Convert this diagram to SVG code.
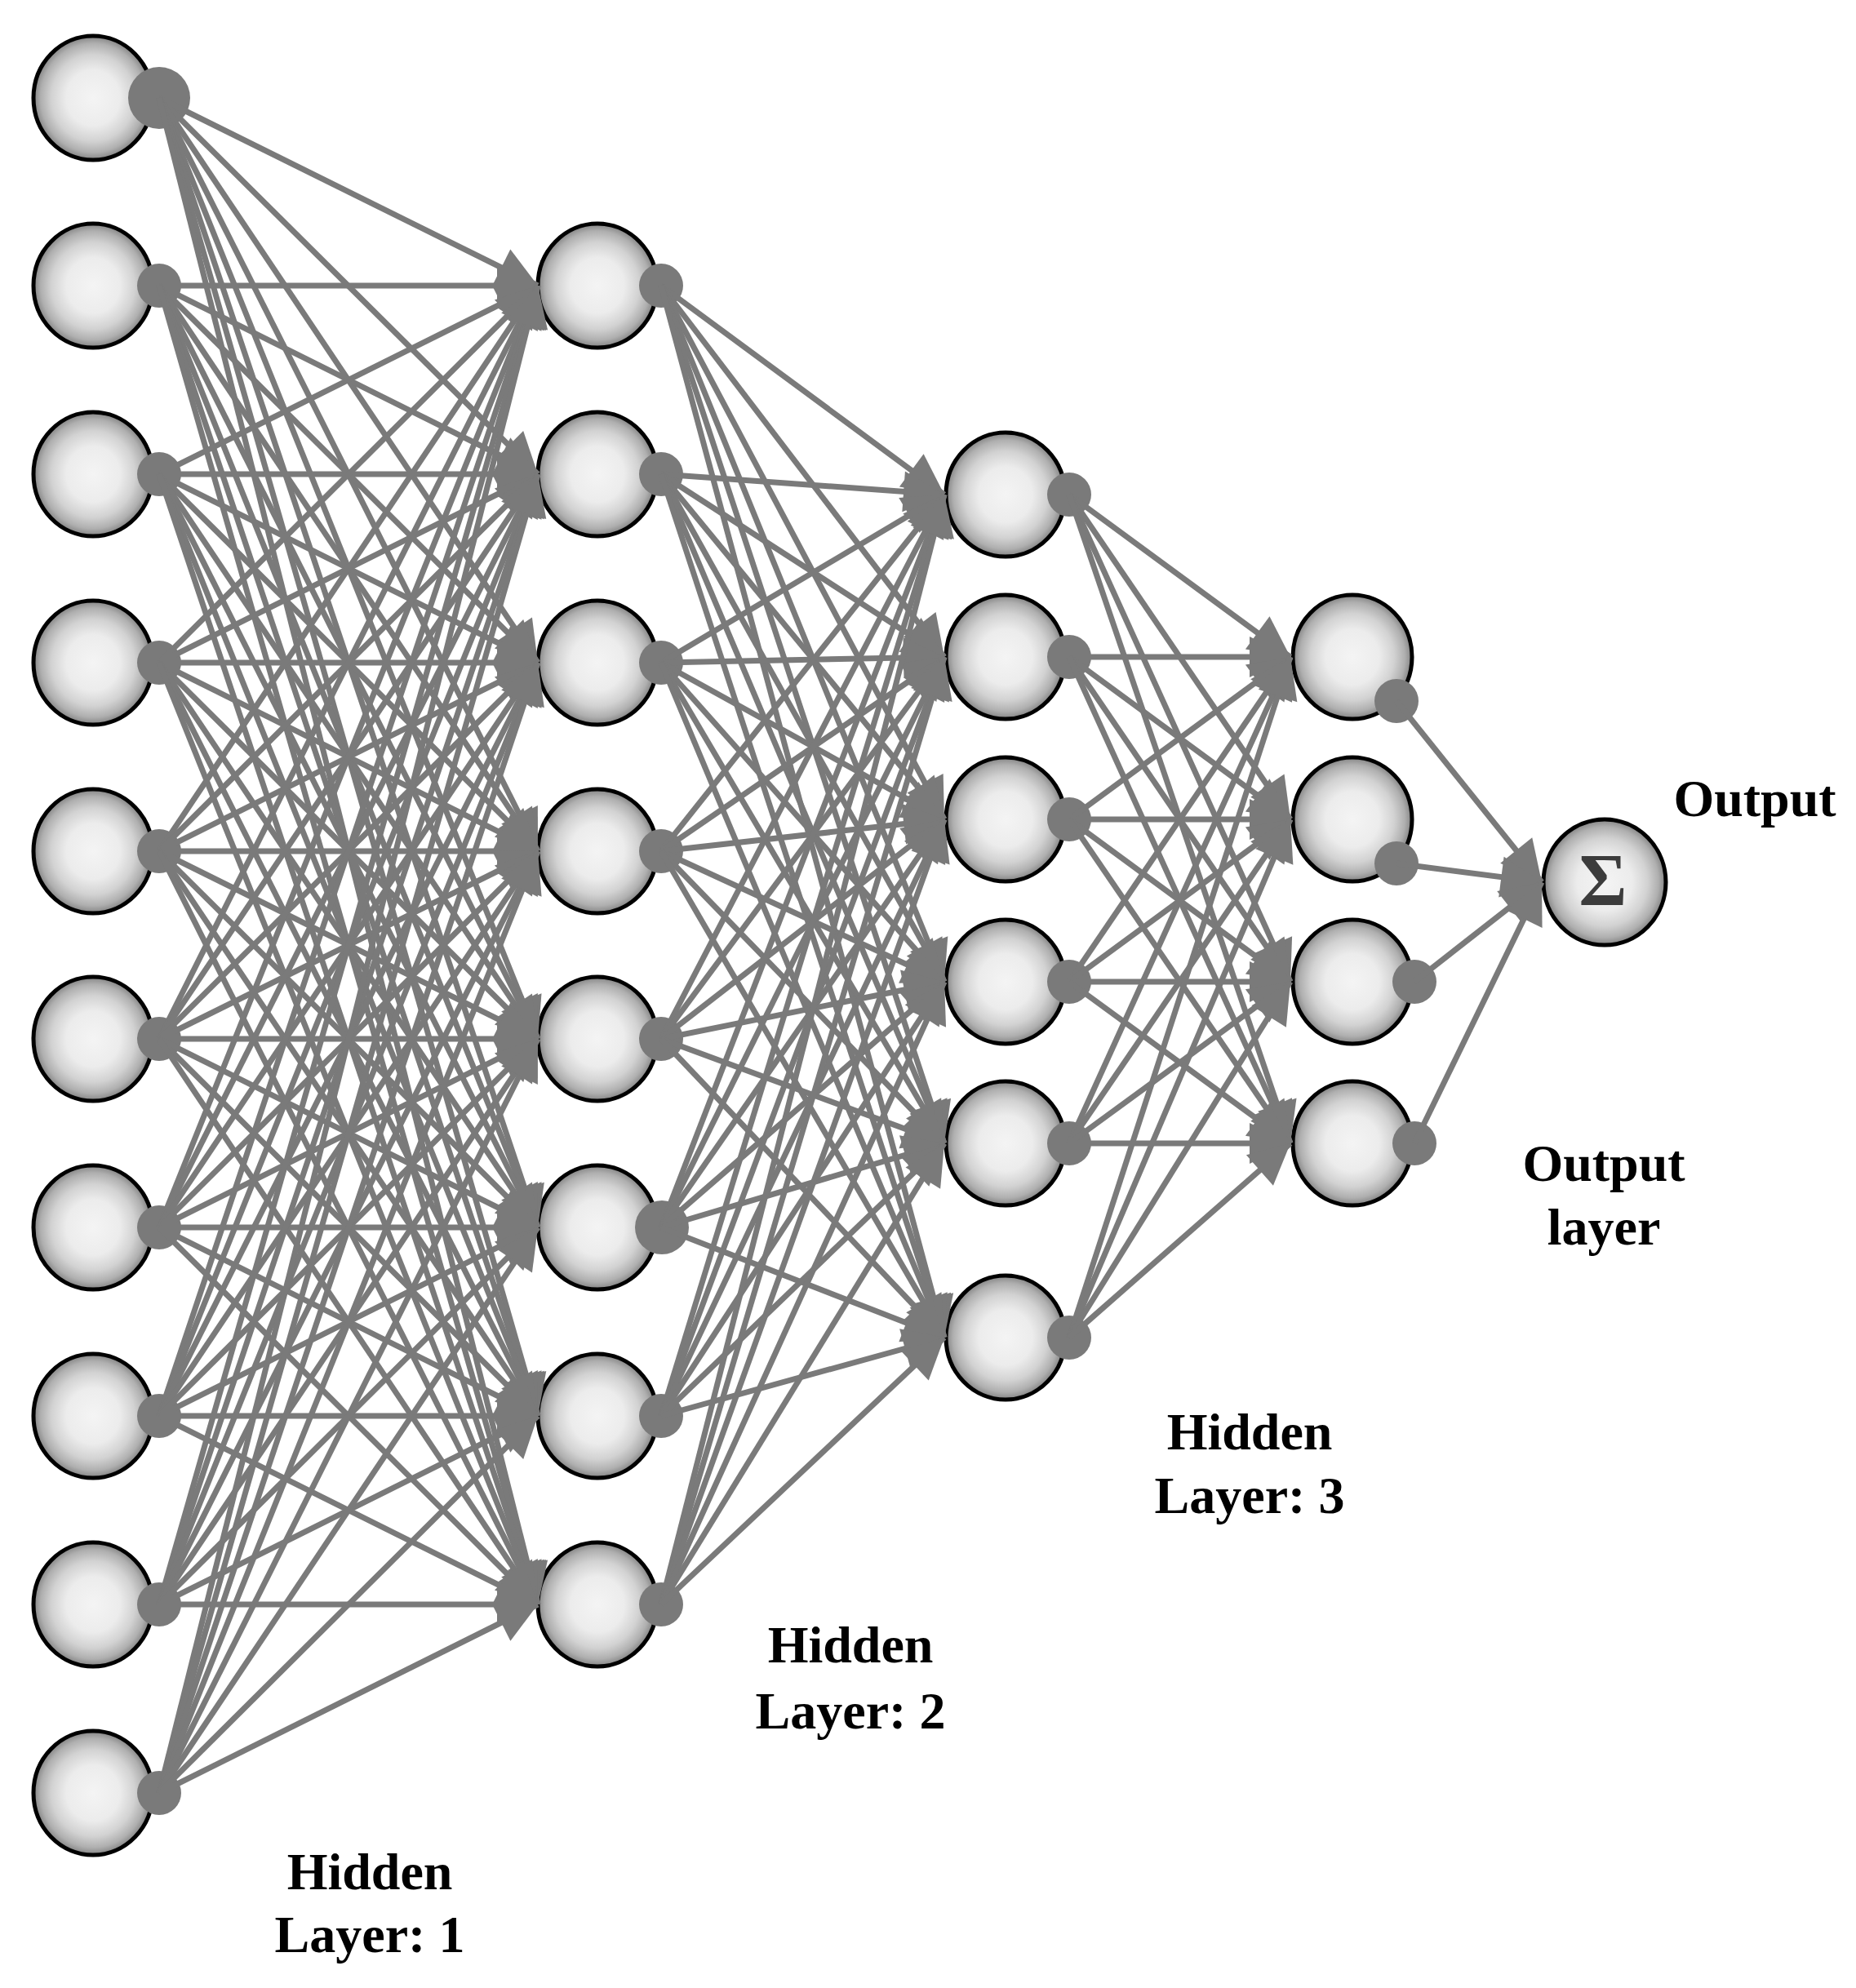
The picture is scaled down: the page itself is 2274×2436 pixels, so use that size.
<svg xmlns="http://www.w3.org/2000/svg" width="2274" height="2436" viewBox="0 0 2274 2436">
<defs>
<radialGradient id="g" cx="50%" cy="50%" r="50%">
<stop offset="0" stop-color="#f4f4f4"/>
<stop offset="0.45" stop-color="#ececec"/>
<stop offset="0.7" stop-color="#d2d2d2"/>
<stop offset="0.88" stop-color="#afafaf"/>
<stop offset="1" stop-color="#828282"/>
</radialGradient>
<marker id="ah" markerUnits="userSpaceOnUse" markerWidth="50" markerHeight="50" refX="50" refY="25" orient="auto" overflow="visible">
<path d="M0,0 L50,25 L0,50 z" fill="#7a7a7a"/>
</marker>
<style>
.n{fill:url(#g);stroke:#000;stroke-width:5}
.d{fill:#7a7a7a}
#connectors line{stroke:#7a7a7a;stroke-width:7;marker-end:url(#ah)}
.t{font-family:"Liberation Serif","Times New Roman",serif;font-weight:bold;font-size:64px;fill:#000;text-anchor:middle}
.s{font-family:"Liberation Serif","Times New Roman",serif;font-weight:bold;font-size:90px;fill:#3c3c3c;text-anchor:middle}
</style>
</defs>
<rect width="2274" height="2436" fill="#fff"/>
<g id="nodes">
<g id="in1"><ellipse class="n" cx="114" cy="120" rx="73" ry="76"/><circle class="d" cx="195" cy="120" r="38"/></g>
<g id="in2"><ellipse class="n" cx="114" cy="350" rx="73" ry="76"/><circle class="d" cx="195" cy="350" r="27"/></g>
<g id="in3"><ellipse class="n" cx="114" cy="581" rx="73" ry="76"/><circle class="d" cx="195" cy="581" r="27"/></g>
<g id="in4"><ellipse class="n" cx="114" cy="812" rx="73" ry="76"/><circle class="d" cx="195" cy="812" r="27"/></g>
<g id="in5"><ellipse class="n" cx="114" cy="1043" rx="73" ry="76"/><circle class="d" cx="195" cy="1043" r="27"/></g>
<g id="in6"><ellipse class="n" cx="114" cy="1273" rx="73" ry="76"/><circle class="d" cx="195" cy="1273" r="27"/></g>
<g id="in7"><ellipse class="n" cx="114" cy="1504" rx="73" ry="76"/><circle class="d" cx="195" cy="1504" r="27"/></g>
<g id="in8"><ellipse class="n" cx="114" cy="1735" rx="73" ry="76"/><circle class="d" cx="195" cy="1735" r="27"/></g>
<g id="in9"><ellipse class="n" cx="114" cy="1966" rx="73" ry="76"/><circle class="d" cx="195" cy="1966" r="27"/></g>
<g id="in10"><ellipse class="n" cx="114" cy="2197" rx="73" ry="76"/><circle class="d" cx="195" cy="2197" r="27"/></g>

<g id="h1_1"><ellipse class="n" cx="732" cy="350" rx="73" ry="76"/><circle class="d" cx="810" cy="350" r="27"/></g>
<g id="h1_2"><ellipse class="n" cx="732" cy="581" rx="73" ry="76"/><circle class="d" cx="810" cy="581" r="27"/></g>
<g id="h1_3"><ellipse class="n" cx="732" cy="812" rx="73" ry="76"/><circle class="d" cx="810" cy="812" r="27"/></g>
<g id="h1_4"><ellipse class="n" cx="732" cy="1043" rx="73" ry="76"/><circle class="d" cx="810" cy="1043" r="27"/></g>
<g id="h1_5"><ellipse class="n" cx="732" cy="1273" rx="73" ry="76"/><circle class="d" cx="810" cy="1273" r="27"/></g>
<g id="h1_6"><ellipse class="n" cx="732" cy="1504" rx="73" ry="76"/><circle class="d" cx="811" cy="1504" r="33"/></g>
<g id="h1_7"><ellipse class="n" cx="732" cy="1735" rx="73" ry="76"/><circle class="d" cx="810" cy="1735" r="27"/></g>
<g id="h1_8"><ellipse class="n" cx="732" cy="1966" rx="73" ry="76"/><circle class="d" cx="810" cy="1966" r="27"/></g>

<g id="h2_1"><ellipse class="n" cx="1232" cy="606" rx="73" ry="76"/><circle class="d" cx="1310" cy="606" r="27"/></g>
<g id="h2_2"><ellipse class="n" cx="1232" cy="805" rx="73" ry="76"/><circle class="d" cx="1310" cy="805" r="27"/></g>
<g id="h2_3"><ellipse class="n" cx="1232" cy="1004" rx="73" ry="76"/><circle class="d" cx="1310" cy="1004" r="27"/></g>
<g id="h2_4"><ellipse class="n" cx="1232" cy="1203" rx="73" ry="76"/><circle class="d" cx="1310" cy="1203" r="27"/></g>
<g id="h2_5"><ellipse class="n" cx="1232" cy="1401" rx="73" ry="76"/><circle class="d" cx="1310" cy="1401" r="27"/></g>
<g id="h2_6"><ellipse class="n" cx="1232" cy="1639" rx="73" ry="76"/><circle class="d" cx="1310" cy="1639" r="27"/></g>

<g id="h3_1"><ellipse class="n" cx="1657" cy="805" rx="73" ry="76"/><circle class="d" cx="1711" cy="859" r="27"/></g>
<g id="h3_2"><ellipse class="n" cx="1657" cy="1004" rx="73" ry="76"/><circle class="d" cx="1711" cy="1058" r="27"/></g>
<g id="h3_3"><ellipse class="n" cx="1657" cy="1203" rx="73" ry="76"/><circle class="d" cx="1733" cy="1203" r="27"/></g>
<g id="h3_4"><ellipse class="n" cx="1657" cy="1401" rx="73" ry="76"/><circle class="d" cx="1733" cy="1401" r="27"/></g>

<g id="sum"><ellipse class="n" cx="1966" cy="1081" rx="75" ry="77"/><text class="s" x="1964" y="1109">Σ</text></g>
</g>

<g id="connectors">
<line x1="195" y1="120" x2="659" y2="350"/><line x1="195" y1="120" x2="659" y2="581"/><line x1="195" y1="120" x2="659" y2="812"/><line x1="195" y1="120" x2="659" y2="1043"/><line x1="195" y1="120" x2="659" y2="1273"/><line x1="195" y1="120" x2="659" y2="1504"/><line x1="195" y1="120" x2="659" y2="1735"/><line x1="195" y1="120" x2="659" y2="1966"/>
<line x1="195" y1="350" x2="659" y2="350"/><line x1="195" y1="350" x2="659" y2="581"/><line x1="195" y1="350" x2="659" y2="812"/><line x1="195" y1="350" x2="659" y2="1043"/><line x1="195" y1="350" x2="659" y2="1273"/><line x1="195" y1="350" x2="659" y2="1504"/><line x1="195" y1="350" x2="659" y2="1735"/><line x1="195" y1="350" x2="659" y2="1966"/>
<line x1="195" y1="581" x2="659" y2="350"/><line x1="195" y1="581" x2="659" y2="581"/><line x1="195" y1="581" x2="659" y2="812"/><line x1="195" y1="581" x2="659" y2="1043"/><line x1="195" y1="581" x2="659" y2="1273"/><line x1="195" y1="581" x2="659" y2="1504"/><line x1="195" y1="581" x2="659" y2="1735"/><line x1="195" y1="581" x2="659" y2="1966"/>
<line x1="195" y1="812" x2="659" y2="350"/><line x1="195" y1="812" x2="659" y2="581"/><line x1="195" y1="812" x2="659" y2="812"/><line x1="195" y1="812" x2="659" y2="1043"/><line x1="195" y1="812" x2="659" y2="1273"/><line x1="195" y1="812" x2="659" y2="1504"/><line x1="195" y1="812" x2="659" y2="1735"/><line x1="195" y1="812" x2="659" y2="1966"/>
<line x1="195" y1="1043" x2="659" y2="350"/><line x1="195" y1="1043" x2="659" y2="581"/><line x1="195" y1="1043" x2="659" y2="812"/><line x1="195" y1="1043" x2="659" y2="1043"/><line x1="195" y1="1043" x2="659" y2="1273"/><line x1="195" y1="1043" x2="659" y2="1504"/><line x1="195" y1="1043" x2="659" y2="1735"/><line x1="195" y1="1043" x2="659" y2="1966"/>
<line x1="195" y1="1273" x2="659" y2="350"/><line x1="195" y1="1273" x2="659" y2="581"/><line x1="195" y1="1273" x2="659" y2="812"/><line x1="195" y1="1273" x2="659" y2="1043"/><line x1="195" y1="1273" x2="659" y2="1273"/><line x1="195" y1="1273" x2="659" y2="1504"/><line x1="195" y1="1273" x2="659" y2="1735"/><line x1="195" y1="1273" x2="659" y2="1966"/>
<line x1="195" y1="1504" x2="659" y2="350"/><line x1="195" y1="1504" x2="659" y2="581"/><line x1="195" y1="1504" x2="659" y2="812"/><line x1="195" y1="1504" x2="659" y2="1043"/><line x1="195" y1="1504" x2="659" y2="1273"/><line x1="195" y1="1504" x2="659" y2="1504"/><line x1="195" y1="1504" x2="659" y2="1735"/><line x1="195" y1="1504" x2="659" y2="1966"/>
<line x1="195" y1="1735" x2="659" y2="350"/><line x1="195" y1="1735" x2="659" y2="581"/><line x1="195" y1="1735" x2="659" y2="812"/><line x1="195" y1="1735" x2="659" y2="1043"/><line x1="195" y1="1735" x2="659" y2="1273"/><line x1="195" y1="1735" x2="659" y2="1504"/><line x1="195" y1="1735" x2="659" y2="1735"/><line x1="195" y1="1735" x2="659" y2="1966"/>
<line x1="195" y1="1966" x2="659" y2="350"/><line x1="195" y1="1966" x2="659" y2="581"/><line x1="195" y1="1966" x2="659" y2="812"/><line x1="195" y1="1966" x2="659" y2="1043"/><line x1="195" y1="1966" x2="659" y2="1273"/><line x1="195" y1="1966" x2="659" y2="1504"/><line x1="195" y1="1966" x2="659" y2="1735"/><line x1="195" y1="1966" x2="659" y2="1966"/>
<line x1="195" y1="2197" x2="659" y2="350"/><line x1="195" y1="2197" x2="659" y2="581"/><line x1="195" y1="2197" x2="659" y2="812"/><line x1="195" y1="2197" x2="659" y2="1043"/><line x1="195" y1="2197" x2="659" y2="1273"/><line x1="195" y1="2197" x2="659" y2="1504"/><line x1="195" y1="2197" x2="659" y2="1735"/><line x1="195" y1="2197" x2="659" y2="1966"/>

<line x1="810" y1="350" x2="1157" y2="606"/><line x1="810" y1="350" x2="1157" y2="805"/><line x1="810" y1="350" x2="1157" y2="1004"/><line x1="810" y1="350" x2="1157" y2="1203"/><line x1="810" y1="350" x2="1157" y2="1401"/><line x1="810" y1="350" x2="1157" y2="1639"/>
<line x1="810" y1="581" x2="1157" y2="606"/><line x1="810" y1="581" x2="1157" y2="805"/><line x1="810" y1="581" x2="1157" y2="1004"/><line x1="810" y1="581" x2="1157" y2="1203"/><line x1="810" y1="581" x2="1157" y2="1401"/><line x1="810" y1="581" x2="1157" y2="1639"/>
<line x1="810" y1="812" x2="1157" y2="606"/><line x1="810" y1="812" x2="1157" y2="805"/><line x1="810" y1="812" x2="1157" y2="1004"/><line x1="810" y1="812" x2="1157" y2="1203"/><line x1="810" y1="812" x2="1157" y2="1401"/><line x1="810" y1="812" x2="1157" y2="1639"/>
<line x1="810" y1="1043" x2="1157" y2="606"/><line x1="810" y1="1043" x2="1157" y2="805"/><line x1="810" y1="1043" x2="1157" y2="1004"/><line x1="810" y1="1043" x2="1157" y2="1203"/><line x1="810" y1="1043" x2="1157" y2="1401"/><line x1="810" y1="1043" x2="1157" y2="1639"/>
<line x1="810" y1="1273" x2="1157" y2="606"/><line x1="810" y1="1273" x2="1157" y2="805"/><line x1="810" y1="1273" x2="1157" y2="1004"/><line x1="810" y1="1273" x2="1157" y2="1203"/><line x1="810" y1="1273" x2="1157" y2="1401"/><line x1="810" y1="1273" x2="1157" y2="1639"/>
<line x1="810" y1="1504" x2="1157" y2="606"/><line x1="810" y1="1504" x2="1157" y2="805"/><line x1="810" y1="1504" x2="1157" y2="1004"/><line x1="810" y1="1504" x2="1157" y2="1203"/><line x1="810" y1="1504" x2="1157" y2="1401"/><line x1="810" y1="1504" x2="1157" y2="1639"/>
<line x1="810" y1="1735" x2="1157" y2="606"/><line x1="810" y1="1735" x2="1157" y2="805"/><line x1="810" y1="1735" x2="1157" y2="1004"/><line x1="810" y1="1735" x2="1157" y2="1203"/><line x1="810" y1="1735" x2="1157" y2="1401"/><line x1="810" y1="1735" x2="1157" y2="1639"/>
<line x1="810" y1="1966" x2="1157" y2="606"/><line x1="810" y1="1966" x2="1157" y2="805"/><line x1="810" y1="1966" x2="1157" y2="1004"/><line x1="810" y1="1966" x2="1157" y2="1203"/><line x1="810" y1="1966" x2="1157" y2="1401"/><line x1="810" y1="1966" x2="1157" y2="1639"/>

<line x1="1310" y1="606" x2="1581" y2="805"/><line x1="1310" y1="606" x2="1581" y2="1004"/><line x1="1310" y1="606" x2="1581" y2="1203"/><line x1="1310" y1="606" x2="1581" y2="1401"/>
<line x1="1310" y1="805" x2="1581" y2="805"/><line x1="1310" y1="805" x2="1581" y2="1004"/><line x1="1310" y1="805" x2="1581" y2="1203"/><line x1="1310" y1="805" x2="1581" y2="1401"/>
<line x1="1310" y1="1004" x2="1581" y2="805"/><line x1="1310" y1="1004" x2="1581" y2="1004"/><line x1="1310" y1="1004" x2="1581" y2="1203"/><line x1="1310" y1="1004" x2="1581" y2="1401"/>
<line x1="1310" y1="1203" x2="1581" y2="805"/><line x1="1310" y1="1203" x2="1581" y2="1004"/><line x1="1310" y1="1203" x2="1581" y2="1203"/><line x1="1310" y1="1203" x2="1581" y2="1401"/>
<line x1="1310" y1="1401" x2="1581" y2="805"/><line x1="1310" y1="1401" x2="1581" y2="1004"/><line x1="1310" y1="1401" x2="1581" y2="1203"/><line x1="1310" y1="1401" x2="1581" y2="1401"/>
<line x1="1310" y1="1639" x2="1581" y2="805"/><line x1="1310" y1="1639" x2="1581" y2="1004"/><line x1="1310" y1="1639" x2="1581" y2="1203"/><line x1="1310" y1="1639" x2="1581" y2="1401"/>

<line x1="1711" y1="859" x2="1889" y2="1081"/><line x1="1711" y1="1058" x2="1889" y2="1081"/><line x1="1733" y1="1203" x2="1889" y2="1081"/><line x1="1733" y1="1401" x2="1889" y2="1081"/>
</g>

<g id="labels">
<text class="t" x="2150" y="1000">Output</text>
<text class="t" x="1965" y="1447">Output</text>
<text class="t" x="1965" y="1525">layer</text>
<text class="t" x="1531" y="1776">Hidden</text>
<text class="t" x="1531" y="1854">Layer: 3</text>
<text class="t" x="1042" y="2037">Hidden</text>
<text class="t" x="1042" y="2118">Layer: 2</text>
<text class="t" x="453" y="2315">Hidden</text>
<text class="t" x="453" y="2392">Layer: 1</text>
</g>
</svg>
